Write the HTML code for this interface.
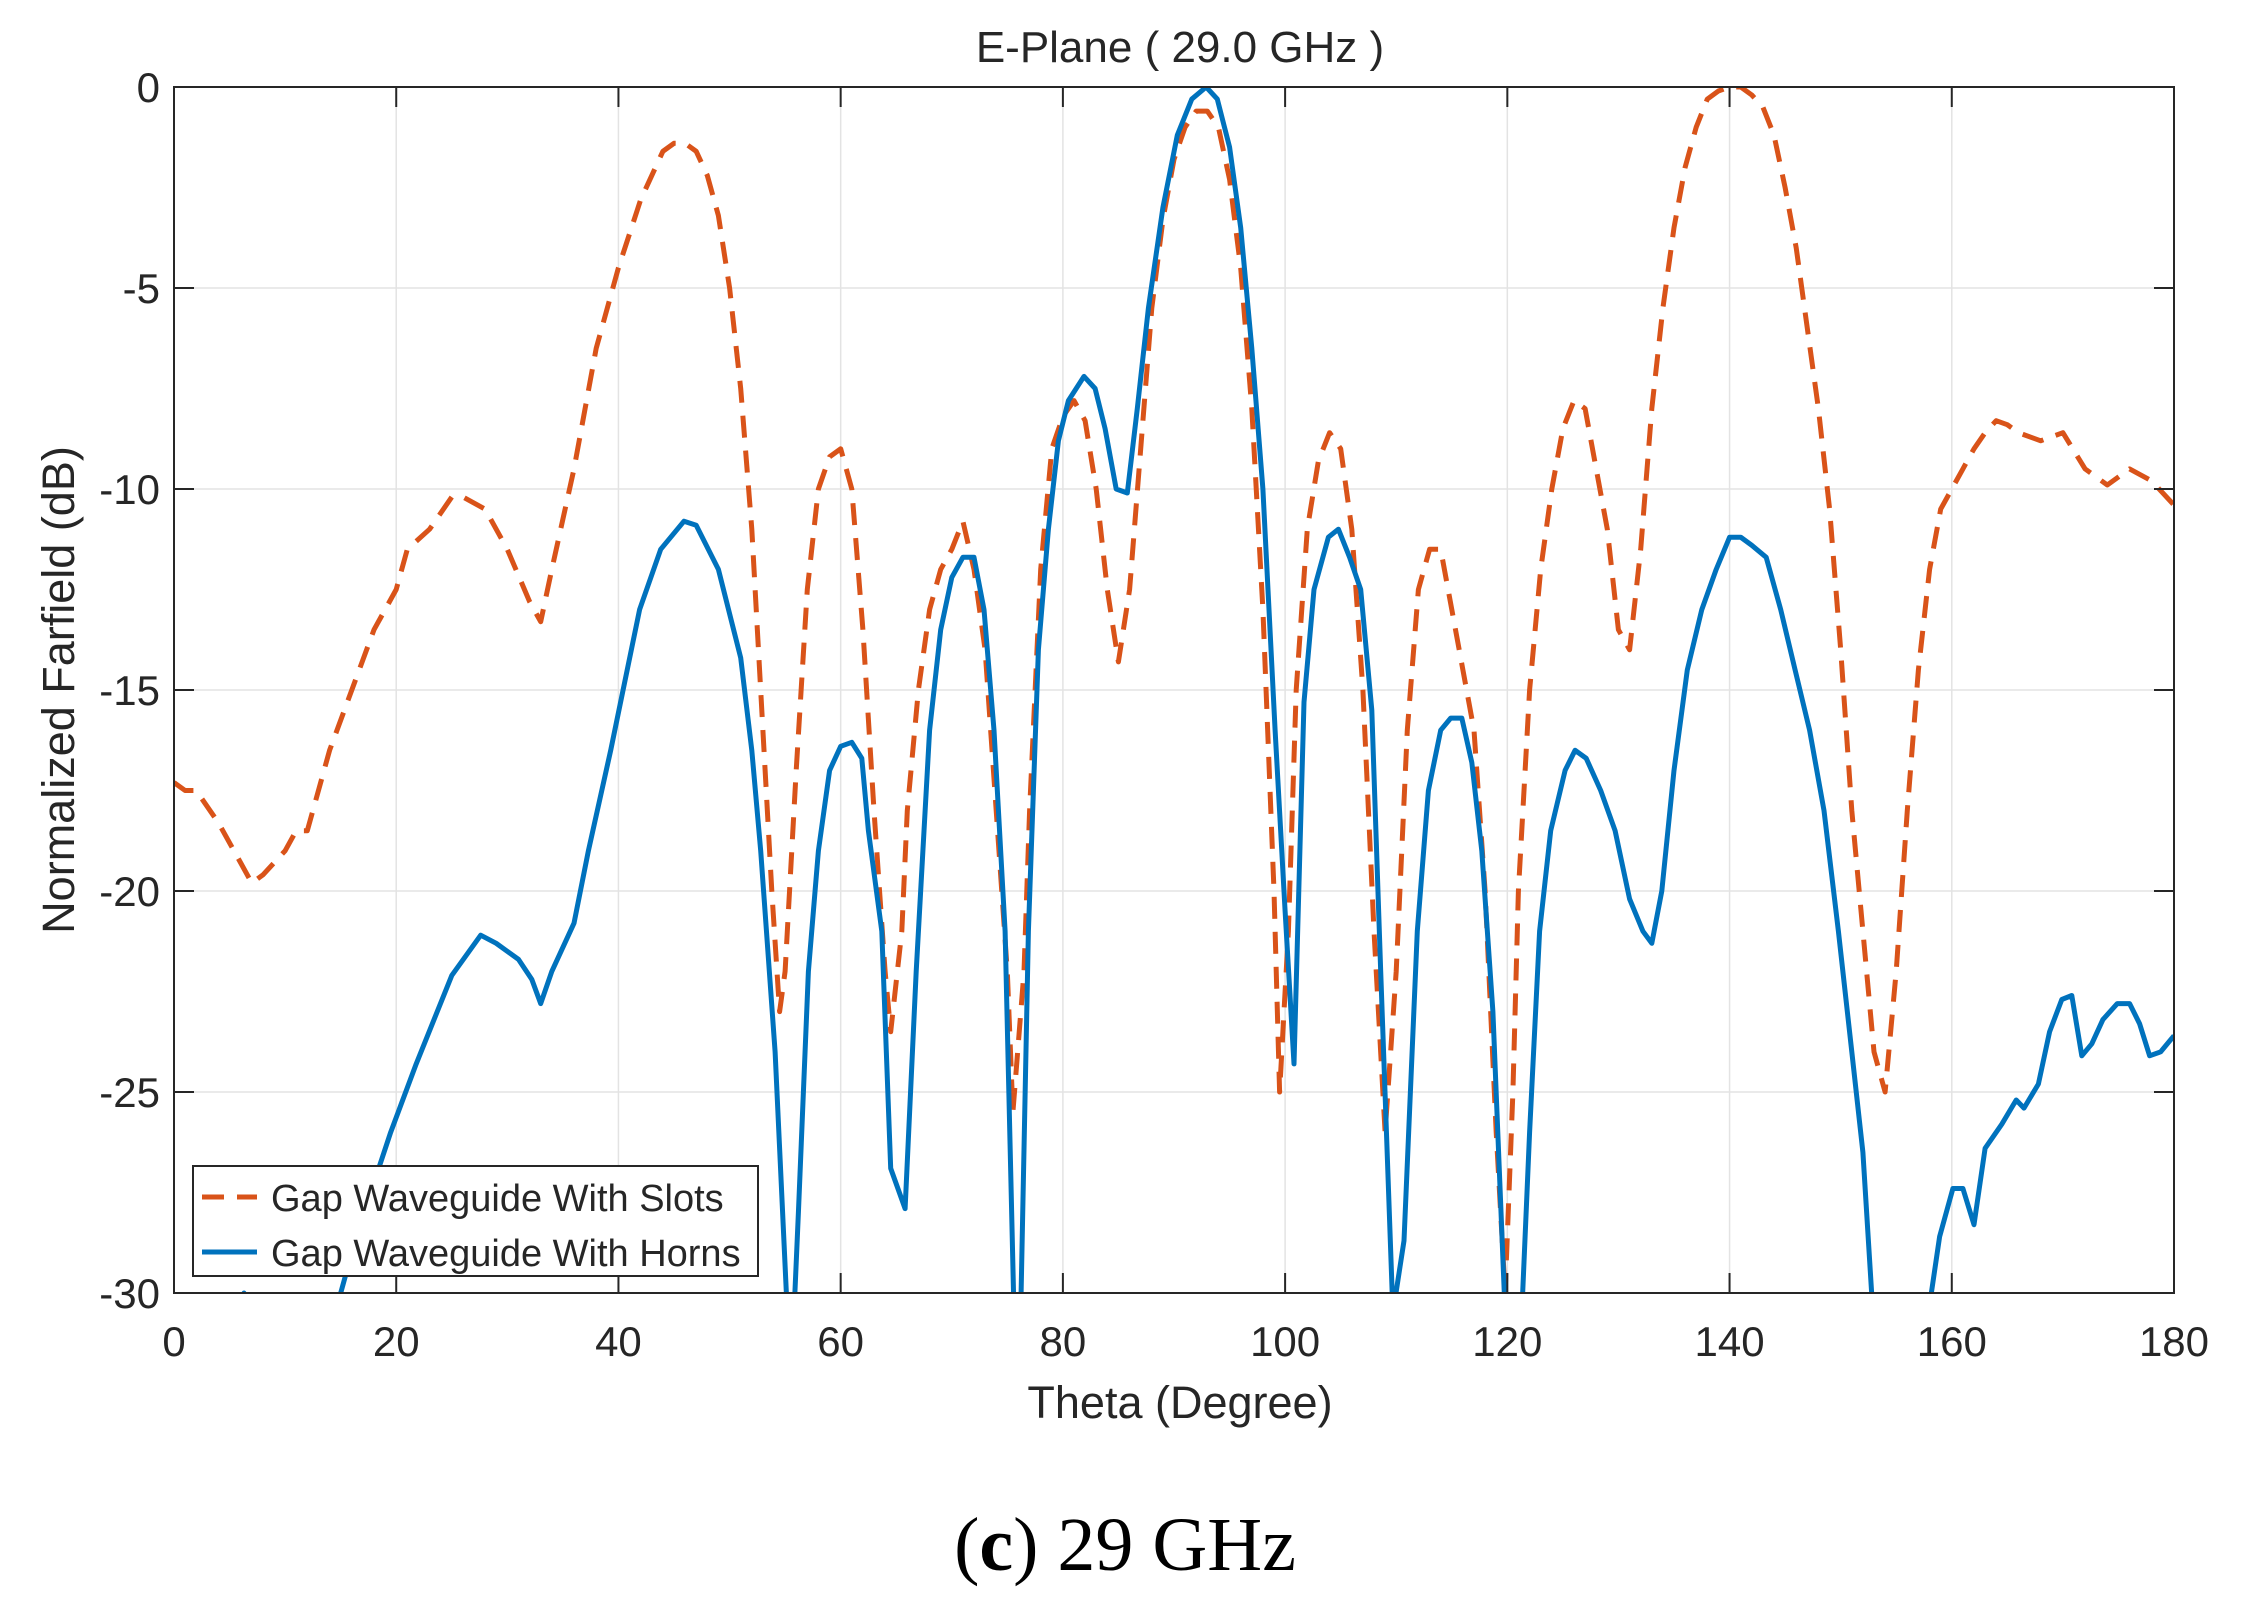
<!DOCTYPE html>
<html><head><meta charset="utf-8"><style>
html,body{margin:0;padding:0;background:#fff;}
svg text{font-family:"Liberation Sans",sans-serif;fill:#262626;}
</style></head><body>
<svg id="s" width="2252" height="1603" viewBox="0 0 2252 1603" xmlns="http://www.w3.org/2000/svg">
<defs><clipPath id="c"><rect x="174" y="87" width="2000" height="1206"/></clipPath></defs>
<rect width="2252" height="1603" fill="#fff"/>
<g id="grid" stroke="#e3e3e3" stroke-width="1.5"></g>
<g clip-path="url(#c)">
<polyline id="orange" fill="none" stroke="#D95319" stroke-width="5" stroke-dasharray="22,13" stroke-linejoin="round"/>
<polyline id="blue" fill="none" stroke="#0072BD" stroke-width="5" stroke-linejoin="round"/>
</g>
<rect x="174" y="87" width="2000" height="1206" fill="none" stroke="#262626" stroke-width="2"/>
<g id="ticks" stroke="#262626" stroke-width="2"></g>
<g id="labels" font-size="42"></g>
<text x="1180" y="62" font-size="44" text-anchor="middle">E-Plane ( 29.0 GHz )</text>
<text x="1180" y="1418" font-size="45" text-anchor="middle">Theta (Degree)</text>
<text transform="translate(74,690) rotate(-90)" font-size="45" text-anchor="middle">Normalized Farfield (dB)</text>
<rect x="193" y="1166" width="565" height="110" fill="#fff" stroke="#262626" stroke-width="2"/>
<line x1="202" y1="1197" x2="257" y2="1197" stroke="#D95319" stroke-width="5" stroke-dasharray="22,13"/>
<line x1="202" y1="1252" x2="257" y2="1252" stroke="#0072BD" stroke-width="5"/>
<text x="271" y="1211" font-size="38">Gap Waveguide With Slots</text>
<text x="271" y="1266" font-size="38">Gap Waveguide With Horns</text>
<text x="1125" y="1570" font-size="76" text-anchor="middle" style="font-family:'Liberation Serif',serif;fill:#000">(<tspan font-weight="bold">c</tspan>) 29 GHz</text>
</svg>
<script>
var X=function(t){return 174+t*2000/180;},Y=function(d){return 87-d*40.2;};
var o=[[0,-17.3],[1,-17.5],[2,-17.5],[4,-18.3],[6,-19.3],[7,-19.8],[8,-19.6],[10,-19],[11,-18.5],[12,-18.5],[14,-16.5],[16,-15],[18,-13.5],[20,-12.5],[21,-11.5],[23,-11],[25,-10.2],[26,-10.2],[28,-10.5],[30,-11.5],[32,-12.8],[33,-13.3],[34,-12],[36,-9.5],[38,-6.5],[40,-4.5],[42,-2.8],[44,-1.6],[45,-1.4],[46,-1.4],[47,-1.6],[48,-2.2],[49,-3.2],[50,-5],[51,-7.5],[52,-11],[53,-16],[53.8,-20],[54.5,-23],[55,-22],[56,-17],[57,-12.5],[58,-10],[59,-9.2],[60,-9],[61,-10],[62,-13.5],[63,-18],[64,-22],[64.5,-23.5],[65.5,-21],[66,-18],[67,-15],[68,-13],[69,-12],[70,-11.5],[71,-10.8],[72,-12],[73,-14],[74,-18],[75,-22],[75.5,-25.5],[76.5,-22],[77,-18],[78,-12],[79,-9],[80,-8.2],[81,-7.8],[82,-8.3],[83,-10],[84,-12.5],[85,-14.3],[86,-12.5],[87,-9],[88,-5.5],[89,-3.3],[90,-1.8],[91,-1],[92,-0.6],[93,-0.6],[94,-1],[95,-2.3],[96,-4.5],[97,-8],[98,-13],[99,-20],[99.5,-25],[100.3,-21],[101,-15],[102,-11],[103,-9.3],[104,-8.6],[105,-9],[106,-11],[107,-15],[108,-21],[109,-26],[110,-22],[111,-16],[112,-12.5],[113,-11.5],[114,-11.5],[115,-13],[116,-14.5],[117,-16],[118,-20],[119,-26],[119.8,-30],[120.5,-25],[121,-20],[122,-15],[123,-12],[124,-10],[125,-8.5],[126,-7.8],[127,-8],[128,-9.5],[129,-11],[130,-13.5],[131,-14],[132,-11.5],[133,-8],[134,-5.5],[135,-3.5],[136,-2],[137,-1],[138,-0.3],[139,-0.1],[140,0],[141,0],[142,-0.2],[143,-0.5],[144,-1.2],[145,-2.5],[146,-4],[147,-6],[148,-8],[149,-10.5],[150,-14],[151,-18],[152,-21],[153,-24],[154,-25],[155,-22],[156,-18],[157,-14.5],[158,-12],[159,-10.5],[160,-10],[161,-9.5],[162,-9],[163,-8.6],[164,-8.3],[165,-8.4],[166,-8.6],[168,-8.8],[170,-8.6],[172,-9.5],[174,-9.9],[176,-9.5],[178,-9.8],[180,-10.4]];
var b=[[5,-31],[6.3,-30],[7.5,-31],[14,-31],[15,-30],[16,-29],[17.7,-27.5],[19.5,-26],[21.8,-24.3],[25,-22.1],[27.6,-21.1],[29,-21.3],[31,-21.7],[32.2,-22.2],[33,-22.8],[34,-22],[36,-20.8],[37.3,-19],[39.3,-16.5],[41.9,-13],[43.8,-11.5],[45.9,-10.8],[47,-10.9],[49,-12],[51,-14.2],[52,-16.5],[52.8,-19],[54.1,-24],[55.2,-30.5],[55.8,-30.5],[56.2,-28],[57.1,-22],[58,-19],[59,-17],[60,-16.4],[61,-16.3],[61.9,-16.7],[62.5,-18.5],[63.7,-21],[64.5,-26.9],[65.8,-27.9],[66.8,-22],[68,-16],[69,-13.5],[70,-12.2],[71,-11.7],[72,-11.7],[72.9,-13],[73.8,-16],[74.8,-21],[75.6,-30.5],[76.2,-30.5],[76.9,-21],[77.8,-14],[78.7,-11],[79.6,-8.8],[80.5,-7.8],[81.9,-7.2],[82.9,-7.5],[83.8,-8.5],[84.8,-10],[85.8,-10.1],[86.7,-8],[87.7,-5.5],[89,-3],[90.3,-1.2],[91.6,-0.3],[92.9,0],[93.9,-0.3],[95,-1.5],[96,-3.5],[97,-6.5],[98,-10],[99.1,-16],[100,-20.5],[100.8,-24.3],[101.7,-15.3],[102.6,-12.5],[103.9,-11.2],[104.8,-11],[105.8,-11.7],[106.8,-12.5],[107.8,-15.5],[108.6,-22],[109.7,-30.5],[110.7,-28.7],[111.9,-21],[112.9,-17.5],[114,-16],[114.9,-15.7],[115.9,-15.7],[116.8,-16.8],[117.7,-19],[118.7,-23],[119.8,-30.5],[121.3,-30.5],[122,-26],[122.9,-21],[123.9,-18.5],[125.2,-17],[126.1,-16.5],[127.1,-16.7],[128.4,-17.5],[129.7,-18.5],[131,-20.2],[132.2,-21],[133,-21.3],[133.9,-20],[135,-17],[136.2,-14.5],[137.5,-13],[138.8,-12],[140,-11.2],[141,-11.2],[142,-11.4],[143.3,-11.7],[144.6,-13],[145.9,-14.5],[147.2,-16],[148.5,-18],[149.8,-21],[151,-24],[152,-26.5],[152.9,-30.5],[157.9,-30.5],[158.9,-28.6],[160.1,-27.4],[161,-27.4],[162,-28.3],[163,-26.4],[164.5,-25.8],[165.8,-25.2],[166.5,-25.4],[167.8,-24.8],[168.8,-23.5],[169.9,-22.7],[170.8,-22.6],[171.7,-24.1],[172.6,-23.8],[173.6,-23.2],[174.9,-22.8],[176,-22.8],[176.9,-23.3],[177.8,-24.1],[178.8,-24],[180,-23.6]];
function pts(a){return a.map(function(p){return X(p[0]).toFixed(1)+","+Y(p[1]).toFixed(1);}).join(" ");}
document.getElementById("orange").setAttribute("points",pts(o));
document.getElementById("blue").setAttribute("points",pts(b));
var ns="http://www.w3.org/2000/svg",g=document.getElementById("grid"),tk=document.getElementById("ticks"),lb=document.getElementById("labels");
function el(p,n,a,t){var e=document.createElementNS(ns,n);for(var k in a)e.setAttribute(k,a[k]);if(t!==undefined)e.textContent=t;p.appendChild(e);}
for(var t=0;t<=180;t+=20){var x=X(t);if(t>0&&t<180)el(g,"line",{x1:x,y1:87,x2:x,y2:1293});
el(tk,"line",{x1:x,y1:1293,x2:x,y2:1273});el(tk,"line",{x1:x,y1:87,x2:x,y2:107});
el(lb,"text",{x:x,y:1356,"text-anchor":"middle"},String(t));}
for(var d=0;d>=-30;d-=5){var y=Y(d);if(d<0&&d>-30)el(g,"line",{x1:174,y1:y,x2:2174,y2:y});
el(tk,"line",{x1:174,y1:y,x2:194,y2:y});el(tk,"line",{x1:2174,y1:y,x2:2154,y2:y});
el(lb,"text",{x:160,y:y+15,"text-anchor":"end"},String(d));}
</script>
</body></html>
